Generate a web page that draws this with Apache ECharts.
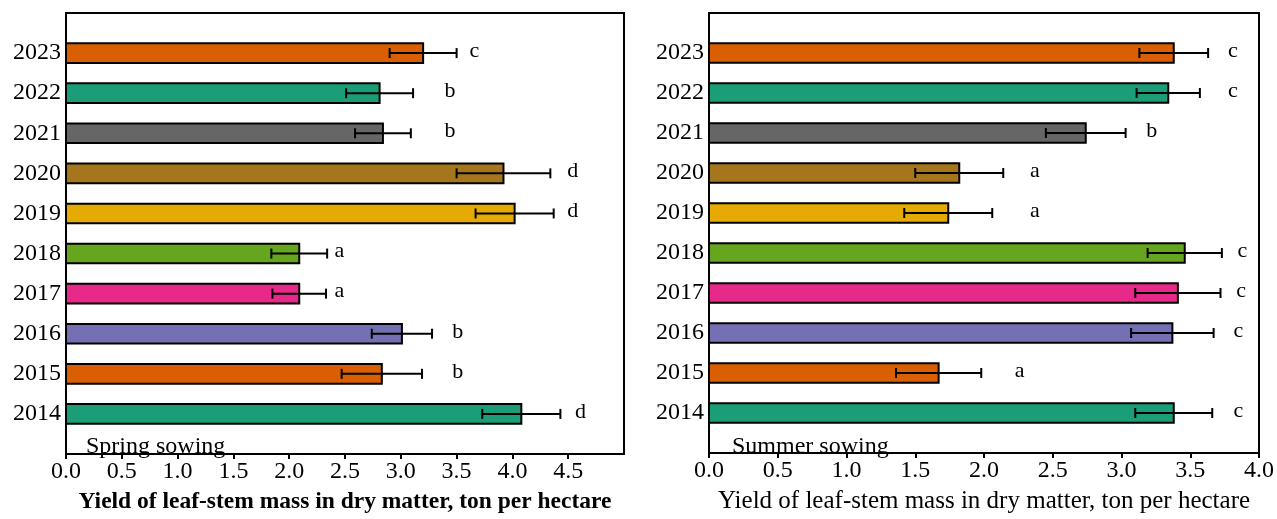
<!DOCTYPE html>
<html>
<head>
<meta charset="utf-8">
<script src="https://cdn.jsdelivr.net/npm/echarts@6/dist/echarts.min.js"></script>
<style>html,body{margin:0;padding:0;background:#fff;}#c{width:1277px;height:519px;}</style>
</head>
<body>
<div id="c"></div>
<script>
// ---- data ----
const years = ['2014','2015','2016','2017','2018','2019','2020','2021','2022','2023'];
const springMean = [4.08, 2.83, 3.01, 2.09, 2.09, 4.02, 3.92, 2.84, 2.81, 3.20];
const springErr  = [0.35, 0.36, 0.27, 0.24, 0.25, 0.35, 0.42, 0.25, 0.30, 0.30];
const springLetters = ['d','b','b','a','a','d','d','b','b','c'];
const springLetterX = [4.61, 3.51, 3.51, 2.45, 2.45, 4.54, 4.54, 3.44, 3.44, 3.66];
const summerMean = [3.38, 1.67, 3.37, 3.41, 3.46, 1.74, 1.82, 2.74, 3.34, 3.38];
const summerErr  = [0.28, 0.31, 0.30, 0.31, 0.27, 0.32, 0.32, 0.29, 0.23, 0.25];
const summerLetters = ['c','a','c','c','c','a','a','b','c','c'];
const summerLetterX = [3.85, 2.26, 3.85, 3.87, 3.88, 2.37, 2.37, 3.22, 3.81, 3.81];
const springTicks = [0, 0.5, 1, 1.5, 2, 2.5, 3, 3.5, 4, 4.5];
const summerTicks = [0, 0.5, 1, 1.5, 2, 2.5, 3, 3.5, 4];
const panelNames = ['Spring sowing', 'Summer sowing'];
const axisTitle = 'Yield of leaf-stem mass in dry matter, ton per hectare';

// ---- styles ----
const palette = ['#1B9E77','#D95F02','#7570B3','#E7298A','#66A61E','#E6AB02','#A6761D','#666666','#1B9E77','#D95F02'];
const FONT = '"Liberation Serif", "DejaVu Serif", serif';
const cats = [' '].concat(years).concat(['  ']);

function rows(mean, err, lx) {
  return years.map((y, i) => [mean[i], y, err[i], lx[i], i]);
}

function makeRender(letters) {
  return function (params, api) {
    const v = api.value(0), cat = api.value(1), e = api.value(2), lx = api.value(3);
    const idx = api.value(4);
    const letter = letters[params.dataIndex];
    const p0 = api.coord([0, cat]);
    const p1 = api.coord([v, cat]);
    const band = api.size([0, 1])[1];
    const h = band * 0.49;
    const lo = api.coord([v - e, cat]);
    const hi = api.coord([v + e, cat]);
    const lp = api.coord([lx, cat]);
    const cap = 5;
    const ls = { stroke: '#000', lineWidth: 2 };
    return {
      type: 'group',
      children: [
        { type: 'rect', shape: { x: p0[0], y: p0[1] - h / 2, width: p1[0] - p0[0], height: h },
          style: { fill: palette[idx], stroke: '#000', lineWidth: 2 } },
        { type: 'line', shape: { x1: lo[0], y1: lo[1], x2: hi[0], y2: hi[1] }, style: ls },
        { type: 'line', shape: { x1: lo[0], y1: lo[1] - cap, x2: lo[0], y2: lo[1] + cap }, style: ls },
        { type: 'line', shape: { x1: hi[0], y1: hi[1] - cap, x2: hi[0], y2: hi[1] + cap }, style: ls },
        { type: 'text', x: lp[0], y: lp[1] - 2,
          style: { text: letter, font: '22px ' + FONT, fill: '#000', align: 'center', verticalAlign: 'middle' } }
      ]
    };
  };
}

const chart = echarts.init(document.getElementById('c'), null, { renderer: 'canvas' });

function xAxis(gi, max, ticks, bold, nameSize) {
  return {
    gridIndex: gi, type: 'value', min: 0, max: max, interval: 0.5,
    axisLine: { show: true, lineStyle: { color: '#000', width: 2 } },
    axisTick: { show: true, length: 5, customValues: ticks, lineStyle: { color: '#000', width: 2 } },
    splitLine: { show: false },
    axisLabel: {
      color: '#000', fontFamily: FONT, fontSize: 24, margin: 6, customValues: ticks,
      formatter: v => Number(v).toFixed(1)
    },
    name: axisTitle, nameLocation: 'middle', nameGap: 36,
    nameTextStyle: { color: '#000', fontFamily: FONT, fontSize: nameSize, fontWeight: bold ? 'bold' : 'normal' }
  };
}
function yAxis(gi) {
  return {
    gridIndex: gi, type: 'category', data: cats, boundaryGap: false,
    axisLine: { show: true, lineStyle: { color: '#000', width: 2 } },
    axisTick: { show: false },
    axisLabel: { color: '#000', fontFamily: FONT, fontSize: 24, margin: 5, interval: 0 },
    splitLine: { show: false }
  };
}

chart.setOption({
  animation: false,
  backgroundColor: '#fff',
  grid: [
    { left: 66, right: 653, top: 13, bottom: 57, show: true, borderColor: '#000', borderWidth: 2, backgroundColor: 'transparent' },
    { left: 709, right: 16, top: 13, bottom: 57, show: true, borderColor: '#000', borderWidth: 2, backgroundColor: 'transparent' }
  ],
  xAxis: [ xAxis(0, 5, springTicks, true, 23.5), xAxis(1, 4, summerTicks, false, 25) ],
  yAxis: [ yAxis(0), yAxis(1) ],
  series: [
    { type: 'custom', xAxisIndex: 0, yAxisIndex: 0, renderItem: makeRender(springLetters),
      encode: { x: 0, y: 1 }, data: rows(springMean, springErr, springLetterX), clip: false },
    { type: 'custom', xAxisIndex: 1, yAxisIndex: 1, renderItem: makeRender(summerLetters),
      encode: { x: 0, y: 1 }, data: rows(summerMean, summerErr, summerLetterX), clip: false }
  ],
  graphic: [
    { type: 'text', left: 86, top: 435, style: { text: panelNames[0], font: '24px ' + FONT, fill: '#000' } },
    { type: 'text', left: 732, top: 435, style: { text: panelNames[1], font: '24px ' + FONT, fill: '#000' } }
  ]
});
</script>
</body>
</html>
